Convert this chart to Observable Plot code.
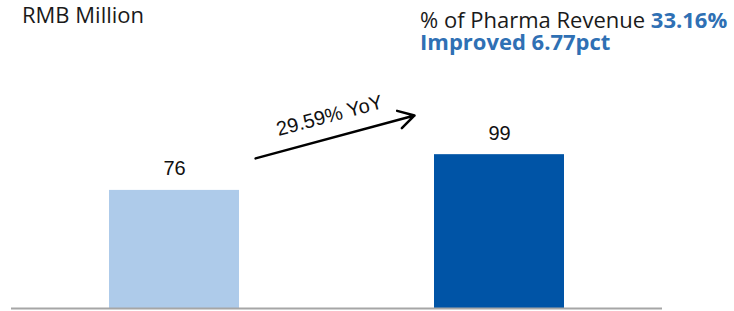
<!DOCTYPE html>
<html><head><meta charset="utf-8">
<script src="https://cdn.jsdelivr.net/npm/d3@7"></script>
<script src="https://cdn.jsdelivr.net/npm/@observablehq/plot@0.6"></script>
<style>
body{margin:0;background:#fff;}
#wrap{width:734px;height:311px;overflow:hidden;}
svg{display:block;}
</style></head><body><div id="wrap"></div>
<script>
// ---- data ----
const categories = ["Last Year", "This Year"];
const values = [76, 99];
const barColors = ["#AECBEA", "#0054A6"];
const unitLabel = "RMB Million";
const growthLabel = "29.59% YoY";
const shareLabel = "% of Pharma Revenue ";
const shareValue = "33.16%";
const improvedLabel = "Improved 6.77pct";

const data = categories.map((c, i) => ({category: c, value: values[i]}));
const arrowData = [{from: categories[0], to: categories[1], y1: values[0] + 6.5, y2: values[1] + 40, label: growthLabel, ly: 124}];

const chart = Plot.plot({
  width: 734, height: 311,
  marginLeft: 11, marginRight: 72, marginTop: 106, marginBottom: 3,
  x: {domain: categories, paddingInner: 0.6, paddingOuter: 0.3, axis: null},
  y: {domain: [0, 130], axis: null},
  color: {domain: categories, range: barColors},
  marks: [
    Plot.barY(data, {x: "category", y: "value", fill: "category"}),
    Plot.ruleY([0], {stroke: "#a6a6a6", strokeWidth: 2}),
    Plot.text(data, {x: "category", y: "value", text: d => String(d.value), dy: -15, lineAnchor: "bottom",
      fontSize: 20, fontFamily: "Liberation Sans, Arial, sans-serif", fill: "#111"}),
    Plot.arrow(arrowData, {x1: "from", x2: "to", y1: "y1", y2: "y2", insetStart: 84, insetEnd: 88,
      stroke: "#000", strokeWidth: 2.5, headLength: 10.8}),
    Plot.text(arrowData, {x: "from", y: "ly", dx: 155, text: "label", rotate: -15,
      fontSize: 20, fontFamily: "Liberation Sans, Arial, sans-serif", fill: "#111"})
  ]
});
document.getElementById("wrap").appendChild(chart);

// header texts
const svg = d3.select(chart);
const font = "'Open Sans', sans-serif";
const hdr = svg.append("g").attr("text-anchor", "start").attr("font-family", font).attr("font-size", 22);
hdr.append("text").attr("x", 22).attr("y", 23).attr("fill", "#1a1a1a").text(unitLabel);
const t1 = hdr.append("text").attr("x", 420).attr("y", 28).attr("fill", "#1a1a1a").attr("xml:space", "preserve");
t1.append("tspan").text(shareLabel);
t1.append("tspan").attr("font-weight", "bold").attr("fill", "#2f70b4").text(shareValue);
hdr.append("text").attr("x", 420).attr("y", 50).attr("font-weight", "bold").attr("fill", "#2f70b4").text(improvedLabel);
</script>
</body></html>
